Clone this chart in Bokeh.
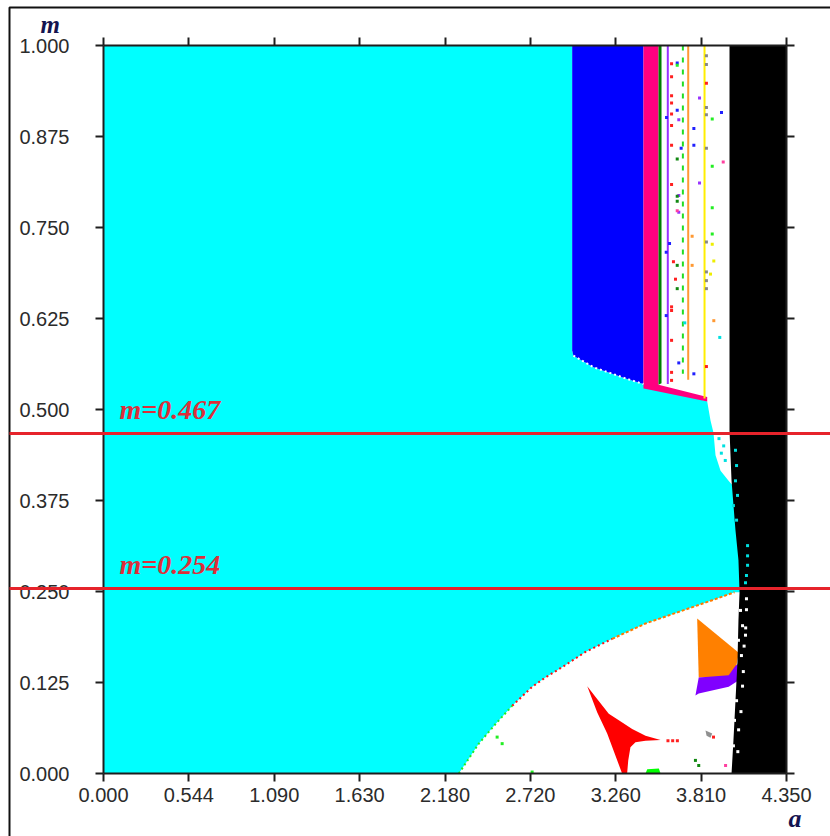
from bokeh.plotting import figure
from bokeh.models import Range1d, FixedTicker, LinearAxis, Label
from bokeh.embed import file_html
from bokeh.resources import INLINE

# ---------------- axes ----------------
x_ticks = [0.0, 0.54375, 1.0875, 1.63125, 2.175, 2.71875, 3.2625, 3.80625, 4.35]
x_tick_labels = ["0.000", "0.544", "1.090", "1.630", "2.180", "2.720", "3.260", "3.810", "4.350"]
y_ticks = [0.0, 0.125, 0.25, 0.375, 0.5, 0.625, 0.75, 0.875, 1.0]
y_tick_labels = ["0.000", "0.125", "0.250", "0.375", "0.500", "0.625", "0.750", "0.875", "1.000"]
a_min, a_max = 0.0, 4.35
m_min, m_max = 0.0, 1.0

# ---------------- regions of the (a, m) plane ----------------
# lower boundary of the cyan region (increasing a)
curve_a = [2.263, 2.390, 2.497, 2.603, 2.730, 2.815, 2.921, 3.070, 3.240, 3.452, 3.664, 3.877, 4.019]
curve_m = [0.000, 0.041, 0.068, 0.093, 0.119, 0.132, 0.146, 0.167, 0.185, 0.206, 0.222, 0.238, 0.249]
# upper/right boundary of the cyan region (from top down)
cyan_edge_a = [2.985, 2.985, 2.993, 3.121, 3.335, 3.439, 3.845, 3.866, 3.885, 3.898, 3.930, 3.981, 4.010, 4.030, 4.048, 4.055]
cyan_edge_m = [1.000, 0.581, 0.574, 0.558, 0.542, 0.535, 0.511, 0.485, 0.468, 0.437, 0.416, 0.402, 0.395, 0.334, 0.293, 0.249]

blue_a = [2.985, 3.439, 3.439, 3.335, 3.121, 2.993, 2.985]
blue_m = [1.000, 1.000, 0.535, 0.542, 0.558, 0.574, 0.581]

pink_a = [3.439, 3.535, 3.535, 3.845, 3.845, 3.480, 3.439]
pink_m = [1.000, 1.000, 0.534, 0.517, 0.511, 0.527, 0.529]

dkgreen_a = [3.535, 3.554, 3.554, 3.535]
dkgreen_m = [1.000, 1.000, 0.536, 0.534]

# thin vertical bands: purple, green (dotted), orange, yellow
vline_a = [3.594, 3.690, 3.724, 3.828]
vline_top = [1.000, 1.000, 1.000, 1.000]
vline_bottom = [0.535, 0.549, 0.541, 0.515]

black_a = [3.987, 4.350, 4.350, 4.000, 4.012, 4.025, 4.038, 4.044, 4.051, 4.044, 4.025, 4.000, 3.987]
black_m = [1.000, 1.000, 0.000, 0.000, 0.045, 0.100, 0.155, 0.210, 0.249, 0.293, 0.334, 0.402, 0.471]

red_a = [3.081, 3.134, 3.218, 3.282, 3.367, 3.452, 3.548, 3.452, 3.388, 3.356, 3.342, 3.335, 3.303, 3.208, 3.144]
red_m = [0.120, 0.105, 0.082, 0.073, 0.061, 0.052, 0.046, 0.045, 0.043, 0.036, 0.018, 0.000, 0.000, 0.055, 0.084]

orange_a = [3.781, 4.046, 4.031, 3.981, 3.791]
orange_m = [0.213, 0.166, 0.148, 0.133, 0.132]

violet_a = [3.791, 3.982, 4.025, 4.046, 4.046, 3.982, 3.791, 3.770]
violet_m = [0.132, 0.135, 0.148, 0.151, 0.128, 0.119, 0.110, 0.107]

lime_a = [3.452, 3.463, 3.537, 3.548]
lime_m = [0.000, 0.006, 0.007, 0.000]

gray_a = [3.834, 3.877, 3.866, 3.841]
gray_m = [0.059, 0.055, 0.049, 0.052]

# scattered isolated points
red_dot_a = [3.618, 3.618, 3.618, 3.618, 3.618, 3.618, 3.618, 3.618, 3.630, 3.643, 3.618, 3.618, 3.618, 3.618, 3.618, 3.840, 3.840, 3.595, 3.625, 3.655, 3.885]
red_dot_m = [0.975, 0.957, 0.931, 0.921, 0.906, 0.890, 0.863, 0.809, 0.703, 0.679, 0.641, 0.636, 0.595, 0.551, 0.540, 0.948, 0.559, 0.045, 0.045, 0.045, 0.050]
blue_dot_a = [3.654, 3.654, 3.679, 3.760, 3.760, 3.586, 3.605, 3.584, 3.584, 3.760, 3.936, 3.664]
blue_dot_m = [0.976, 0.911, 0.859, 0.886, 0.863, 0.901, 0.728, 0.716, 0.629, 0.549, 0.908, 0.564]
violet_dot_a = [3.796, 3.664, 3.796, 3.664, 3.664]
violet_dot_m = [0.928, 0.898, 0.811, 0.771, 0.794]
gray_dot_a = [3.840, 3.840, 3.840, 3.840, 3.840, 3.840, 3.840, 3.840, 3.840]
gray_dot_m = [0.986, 0.974, 0.915, 0.905, 0.859, 0.730, 0.689, 0.677, 0.666]
dkgreen_dot_a = [3.654, 3.654, 3.654, 3.654, 3.654, 3.770, 3.791]
dkgreen_dot_m = [0.844, 0.793, 0.786, 0.698, 0.666, 0.018, 0.011]
lime_dot_a = [3.877, 3.877, 3.877, 3.877, 3.654, 2.507, 2.539, 2.730]
lime_dot_m = [0.899, 0.834, 0.777, 0.741, 0.973, 0.050, 0.041, 0.002]
pink_dot_a = [3.947, 3.654, 3.962]
pink_dot_m = [0.840, 0.773, 0.011]
orange_dot_a = [3.749, 3.749, 3.887]
orange_dot_m = [0.738, 0.698, 0.622]
yellow_dot_a = [3.887, 3.877, 3.866]
yellow_dot_m = [0.704, 0.727, 0.686]
cyan_dot_a = [3.925, 3.702, 4.025, 4.032, 4.025, 4.038, 4.012, 4.032, 4.102, 4.102, 4.102, 4.095, 4.089, 3.920, 3.950, 3.960, 3.935]
cyan_dot_m = [0.599, 0.619, 0.444, 0.423, 0.402, 0.382, 0.368, 0.348, 0.313, 0.299, 0.286, 0.272, 0.262, 0.460, 0.450, 0.430, 0.440]
white_dot_a = [4.057, 4.070, 4.044, 4.063, 4.032, 4.019, 4.012, 4.089, 4.095, 4.095, 4.090, 4.080, 4.075, 4.070, 4.060, 4.045, 4.040]
white_dot_m = [0.224, 0.203, 0.183, 0.162, 0.100, 0.073, 0.038, 0.190, 0.240, 0.225, 0.200, 0.175, 0.140, 0.120, 0.085, 0.060, 0.030]

# reference levels
ref_m = [0.467, 0.254]
ref_labels = ["m=0.467", "m=0.254"]

# ---------------- page geometry (pixels) ----------------
W, H = 830, 836
FRAME_L, FRAME_R, FRAME_T, FRAME_B = 103, 786, 45, 773   # where the a/m box sits
px_a = (a_max - a_min) / (FRAME_R - FRAME_L)
px_m = (m_max - m_min) / (FRAME_B - FRAME_T)
TEXT_LIFT = 9   # baseline correction for Label text, pixels


def ax_of(px):
    return a_min + (px - FRAME_L) * px_a


def my_of(py):
    return m_min + (FRAME_B - py) * px_m


# the plotting frame covers the whole page; the axes are pinned at the box edges
p = figure(width=W, height=H,
           x_range=Range1d(ax_of(0), ax_of(W)), y_range=Range1d(my_of(H), my_of(0)),
           x_axis_location=None, y_axis_location=None, toolbar_location=None,
           output_backend="svg", min_border=0,
           min_border_left=0, min_border_right=0, min_border_top=0, min_border_bottom=0,
           background_fill_color="white", border_fill_color="white",
           outline_line_color=None)
p.xgrid.visible = False
p.ygrid.visible = False

AX_COLOR = "#1e1e1e"
LABEL_FONT = "Liberation Sans"


def make_axis(ticks, labels, show_labels, standoff, bounds, loc):
    ax = LinearAxis(ticker=FixedTicker(ticks=ticks), bounds=bounds, fixed_location=loc)
    ax.major_label_overrides = {t: (l if show_labels else "") for t, l in zip(ticks, labels)}
    ax.axis_line_color = AX_COLOR
    ax.axis_line_width = 2
    ax.major_tick_line_color = AX_COLOR
    ax.major_tick_line_width = 2
    ax.major_tick_out = 8
    ax.major_tick_in = 0
    ax.minor_tick_line_color = None
    ax.major_label_text_font = LABEL_FONT
    ax.major_label_text_font_size = "20px"
    ax.major_label_text_color = "#2b2b2b"
    ax.major_label_standoff = standoff
    return ax


# cyan region
cyan_xs = [a_min, a_min] + cyan_edge_a + curve_a[::-1]
cyan_ys = [m_min, m_max] + cyan_edge_m + curve_m[::-1]
p.patch(cyan_xs, cyan_ys, fill_color="#00FFFF", line_color=None)

p.patch(blue_a, blue_m, fill_color="#0000FF", line_color=None)
p.patch(pink_a, pink_m, fill_color="#FF0080", line_color=None)
p.patch(dkgreen_a, dkgreen_m, fill_color="#008000", line_color=None)

# white speckled seam between blue and cyan
p.line(blue_a[2:6][::-1], blue_m[2:6][::-1], line_color="white", line_width=2, line_dash="2 3")

vcolors = ["#9933FF", "#22DD22", "#FF9933", "#FFEE00"]
vdash = ["solid", "5 7", "solid", "solid"]
for a, t, b, c, d in zip(vline_a, vline_top, vline_bottom, vcolors, vdash):
    p.segment(x0=[a], y0=[t], x1=[a], y1=[b], line_color=c, line_width=2, line_dash=d)

# coloured fringe of the lower cyan edge
p.line(curve_a[8:], curve_m[8:], line_color="#FF7A00", line_width=2, line_dash="3 2")
p.line(curve_a[3:9], curve_m[3:9], line_color="#FF1010", line_width=2, line_dash="2 3")
p.line(curve_a[:4], curve_m[:4], line_color="#22EE22", line_width=2, line_dash="2 3")

p.patch(red_a, red_m, fill_color="#FF0000", line_color=None)
p.patch(orange_a, orange_m, fill_color="#FF8000", line_color=None)
p.patch(violet_a, violet_m, fill_color="#8000FF", line_color=None)
p.patch(lime_a, lime_m, fill_color="#00FF00", line_color=None)
p.patch(gray_a, gray_m, fill_color="#909090", line_color=None)

p.patch(black_a, black_m, fill_color="#000000", line_color=None)

dot_sets = [
    (red_dot_a, red_dot_m, "#FF2020"),
    (blue_dot_a, blue_dot_m, "#2020FF"),
    (violet_dot_a, violet_dot_m, "#9933FF"),
    (gray_dot_a, gray_dot_m, "#888888"),
    (dkgreen_dot_a, dkgreen_dot_m, "#118811"),
    (lime_dot_a, lime_dot_m, "#22EE22"),
    (pink_dot_a, pink_dot_m, "#FF40A0"),
    (orange_dot_a, orange_dot_m, "#FF9933"),
    (yellow_dot_a, yellow_dot_m, "#EEEE00"),
    (cyan_dot_a, cyan_dot_m, "#00E0E0"),
    (white_dot_a, white_dot_m, "#FFFFFF"),
]
for xs, ys, c in dot_sets:
    p.scatter(xs, ys, marker="square", size=3, fill_color=c, line_color=None)

# axes pinned to the edges of the a/m box
p.add_layout(make_axis(x_ticks, x_tick_labels, True, 6, (a_min, a_max), m_min), "below")
p.add_layout(make_axis(y_ticks, y_tick_labels, True, 26, (m_min, m_max), a_min), "left")
p.add_layout(make_axis(x_ticks, x_tick_labels, False, 0, (a_min, a_max), m_max), "above")
p.add_layout(make_axis(y_ticks, y_tick_labels, False, 0, (m_min, m_max), a_max), "right")

# outer picture frame (starts at the left/top of the page, runs off right/bottom)
p.line([ax_of(9), ax_of(9), ax_of(W + 5)], [my_of(H + 5), my_of(7), my_of(7)],
       line_color="#111111", line_width=2)

# reference lines across the whole picture + labels
p.segment(x0=[ax_of(9)] * len(ref_m), x1=[ax_of(W + 5)] * len(ref_m), y0=ref_m, y1=ref_m,
          line_color="#E6232B", line_width=3, level="overlay")
for mv, txt in zip(ref_m, ref_labels):
    p.add_layout(Label(x=ax_of(119), y=mv + (15 + TEXT_LIFT) * px_m, text=txt,
                       text_font="Liberation Serif",
                       text_font_style="bold italic", text_font_size="28px",
                       text_color="#DC2F3A", text_align="left", text_baseline="alphabetic"))

# axis names
p.add_layout(Label(x=ax_of(40), y=my_of(33 - TEXT_LIFT), text="m", text_font="Liberation Serif",
                   text_font_style="bold italic", text_font_size="25px",
                   text_color="#141450", text_baseline="alphabetic"))
p.add_layout(Label(x=ax_of(788), y=my_of(827 - TEXT_LIFT), text="a", text_font="Liberation Serif",
                   text_font_style="bold italic", text_font_size="26px",
                   text_color="#141450", text_baseline="alphabetic"))

open("out.html", "w").write(file_html(p, INLINE))
